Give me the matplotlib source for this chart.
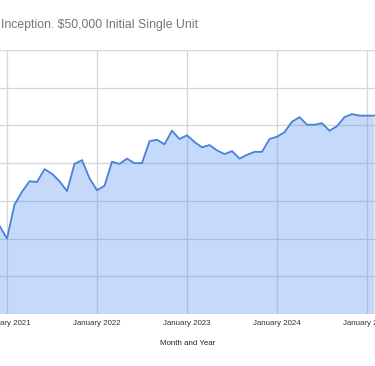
import numpy as np
import matplotlib.pyplot as plt

# monthly values (thousands of $), Dec 2020 .. Feb 2025
months = ['Dec 2020',
          'Jan 2021', 'Feb 2021', 'Mar 2021', 'Apr 2021', 'May 2021', 'Jun 2021',
          'Jul 2021', 'Aug 2021', 'Sep 2021', 'Oct 2021', 'Nov 2021', 'Dec 2021',
          'Jan 2022', 'Feb 2022', 'Mar 2022', 'Apr 2022', 'May 2022', 'Jun 2022',
          'Jul 2022', 'Aug 2022', 'Sep 2022', 'Oct 2022', 'Nov 2022', 'Dec 2022',
          'Jan 2023', 'Feb 2023', 'Mar 2023', 'Apr 2023', 'May 2023', 'Jun 2023',
          'Jul 2023', 'Aug 2023', 'Sep 2023', 'Oct 2023', 'Nov 2023', 'Dec 2023',
          'Jan 2024', 'Feb 2024', 'Mar 2024', 'Apr 2024', 'May 2024', 'Jun 2024',
          'Jul 2024', 'Aug 2024', 'Sep 2024', 'Oct 2024', 'Nov 2024', 'Dec 2024',
          'Jan 2025', 'Feb 2025']
values = [51.7,
          50.0, 54.5, 56.2, 57.6, 57.5, 59.2, 58.6, 57.6, 56.3, 59.9, 60.4, 58.0,
          56.4, 57.0, 60.2, 59.9, 60.6, 60.0, 60.0, 62.9, 63.1, 62.5, 64.3, 63.2,
          63.7, 62.8, 62.1, 62.4, 61.7, 61.2, 61.6, 60.6, 61.1, 61.5, 61.5, 63.2,
          63.5, 64.1, 65.5, 66.1, 65.1, 65.1, 65.3, 64.3, 64.9, 66.1, 66.5, 66.3,
          66.3, 66.3]
tick_labels = ['January 2021', 'January 2022', 'January 2023', 'January 2024', 'January 2025']
tick_pos = [months.index(l.replace('January', 'Jan')) for l in tick_labels]

values = np.array(values) * 1000
x = np.arange(len(months))

plt.rcParams['font.family'] = ['Liberation Sans', 'DejaVu Sans']

fig = plt.figure(figsize=(3.75, 3.66), dpi=100)
ax = fig.add_axes([0, 52 / 366, 1, 264 / 366])

ax.fill_between(x, values, 0, color='#4285f4', alpha=0.3, lw=0, zorder=2)
ax.plot(x, values, color='#4a80dc', lw=1.3, zorder=3)

ax.set_xlim(1 - 7 / 7.5, 1 + 368 / 7.5)
ax.set_ylim(40000, 75000)
ax.set_yticks(np.arange(40000, 75001, 5000))
ax.set_yticklabels([])
ax.set_xticks(tick_pos)
ax.set_xticklabels(tick_labels, fontsize=5.7, color='#333333')
ax.tick_params(length=0, pad=4)
ax.grid(True, color='#d6d6d6', lw=0.9, zorder=1)
ax.set_axisbelow(True)
for s in ax.spines.values():
    s.set_visible(False)

ax.set_xlabel('Month and Year', fontsize=5.7, color='#222222', labelpad=10)
fig.text(1 / 375, 1 - 25 / 366, 'Inception. $50,000 Initial Single Unit',
         fontsize=8.8, color='#757575', ha='left', va='center')

fig.savefig('out.png', dpi=100)
